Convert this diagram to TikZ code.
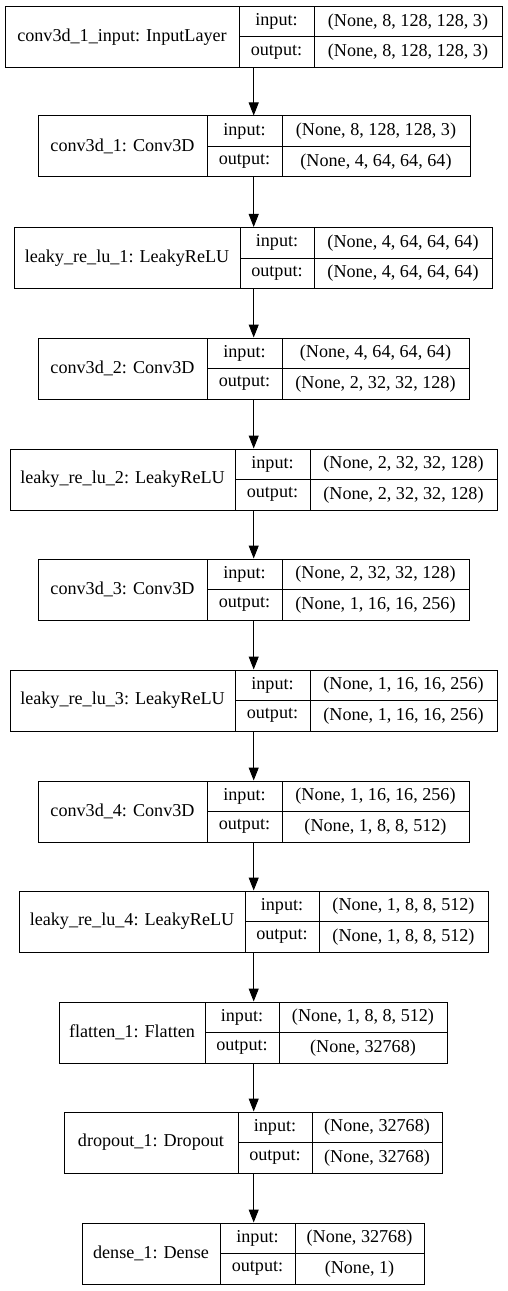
\documentclass[tikz,border=0pt]{standalone}
\usepackage{fontspec}
\setmainfont{Liberation Serif}
\usetikzlibrary{arrows.meta}
\tikzset{
  cell/.style={draw=black, line width=0.75pt, inner sep=0pt, font=\fontsize{13.6pt}{15pt}\selectfont, fill=white},
  arr/.style={draw=black, line width=0.75pt, -{Triangle[length=9.75pt,width=7.5pt]}}
}
\newcommand\layerbox[9]{%
  \pgfmathsetmacro\wa{(#3-#2)*0.75}%
  \pgfmathsetmacro\wb{(#4-#3)*0.75}%
  \pgfmathsetmacro\wc{(#5-#4)*0.75}%
  \pgfmathsetmacro\cxa{(#2+#3)/2}%
  \pgfmathsetmacro\cxb{(#3+#4)/2}%
  \pgfmathsetmacro\cxc{(#4+#5)/2}%
  \pgfmathsetmacro\yu{#6-15.25}%
  \pgfmathsetmacro\yd{#6+15.25}%
  \node[cell, minimum width=\wa pt, minimum height=45.75pt] (#1) at (\cxa,#6) {#7};
  \node[cell, minimum width=\wb pt, minimum height=22.875pt] (#1-il) at (\cxb,\yu) {input:};
  \node[cell, minimum width=\wc pt, minimum height=22.875pt] (#1-iv) at (\cxc,\yu) {#8};
  \node[cell, minimum width=\wb pt, minimum height=22.875pt] (#1-ol) at (\cxb,\yd) {output:};
  \node[cell, minimum width=\wc pt, minimum height=22.875pt] (#1-ov) at (\cxc,\yd) {#9};
}
\begin{document}
\begin{tikzpicture}[x=0.75pt,y=-0.75pt]
\useasboundingbox (0,0) rectangle (507,1291);
\coordinate (ax) at (253.7,0);
\layerbox{l1}{5}{239}{314}{502}{37}{conv3d\_1\_input: InputLayer}{(None, 8, 128, 128, 3)}{(None, 8, 128, 128, 3)}
\layerbox{l2}{38}{207}{282}{470}{146.5}{conv3d\_1: Conv3D}{(None, 8, 128, 128, 3)}{(None, 4, 64, 64, 64)}
\layerbox{l3}{14}{240}{314}{492}{258}{leaky\_re\_lu\_1: LeakyReLU}{(None, 4, 64, 64, 64)}{(None, 4, 64, 64, 64)}
\layerbox{l4}{38}{207}{282}{469}{368.5}{conv3d\_2: Conv3D}{(None, 4, 64, 64, 64)}{(None, 2, 32, 32, 128)}
\layerbox{l5}{10}{235}{310}{497}{479.5}{leaky\_re\_lu\_2: LeakyReLU}{(None, 2, 32, 32, 128)}{(None, 2, 32, 32, 128)}
\layerbox{l6}{38}{207}{282}{469}{589.5}{conv3d\_3: Conv3D}{(None, 2, 32, 32, 128)}{(None, 1, 16, 16, 256)}
\layerbox{l7}{10}{235}{310}{497}{700.5}{leaky\_re\_lu\_3: LeakyReLU}{(None, 1, 16, 16, 256)}{(None, 1, 16, 16, 256)}
\layerbox{l8}{38}{207}{282}{469}{811.5}{conv3d\_4: Conv3D}{(None, 1, 16, 16, 256)}{(None, 1, 8, 8, 512)}
\layerbox{l9}{19}{245}{319}{488}{921.5}{leaky\_re\_lu\_4: LeakyReLU}{(None, 1, 8, 8, 512)}{(None, 1, 8, 8, 512)}
\layerbox{l10}{59}{205}{279}{447}{1032.5}{flatten\_1: Flatten}{(None, 1, 8, 8, 512)}{(None, 32768)}
\layerbox{l11}{64}{238}{312}{442}{1142.5}{dropout\_1: Dropout}{(None, 32768)}{(None, 32768)}
\layerbox{l12}{82}{220}{295}{424}{1253.5}{dense\_1: Dense}{(None, 32768)}{(None, 1)}
\foreach \a/\b in {l1/l2,l2/l3,l3/l4,l4/l5,l5/l6,l6/l7,l7/l8,l8/l9,l9/l10,l10/l11,l11/l12}{
  \draw[arr] (\a-ol.south -| ax) -- (\b-il.north -| ax);
}
\end{tikzpicture}
\end{document}
